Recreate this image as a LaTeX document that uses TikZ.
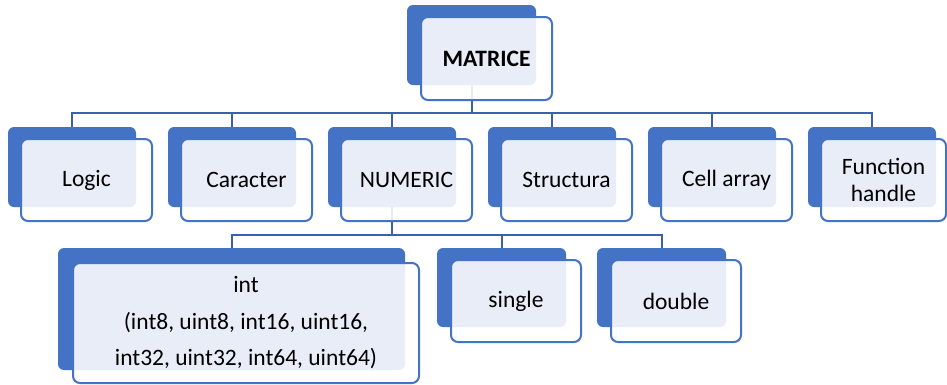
\documentclass[tikz,border=0pt]{standalone}
\usepackage{fontspec}
\setmainfont{Carlito}
\definecolor{myblue}{HTML}{4472C4}
\definecolor{linkblue}{HTML}{3A62AC}
\begin{document}
\begin{tikzpicture}[x=1pt,y=-1pt,
  back/.style={fill=myblue, rounded corners=6pt, inner sep=0pt},
  front/.style={draw=myblue, line width=2pt, fill=white, fill opacity=0.88, text opacity=1,
    rounded corners=7pt, inner sep=0pt, font=\fontsize{23.5}{27}\selectfont, align=center},
  link/.style={draw=linkblue, line width=2pt}]
\useasboundingbox[fill=white] (0,0) rectangle (947,384);
% back boxes
\node[back, minimum width=129pt, minimum height=80pt] (matB) at (471.5,45) {};
\node[back, minimum width=128pt, minimum height=80pt] (logB) at (72,167) {};
\node[back, minimum width=128pt, minimum height=80pt] (carB) at (232,167) {};
\node[back, minimum width=128pt, minimum height=80pt] (numB) at (392,167) {};
\node[back, minimum width=128pt, minimum height=80pt] (strB) at (552,167) {};
\node[back, minimum width=128pt, minimum height=80pt] (celB) at (712,167) {};
\node[back, minimum width=128pt, minimum height=80pt] (funB) at (872,167) {};
\node[back, minimum width=347pt, minimum height=122pt] (intB) at (231.5,309) {};
\node[back, minimum width=129pt, minimum height=79pt] (sinB) at (501.5,287.5) {};
\node[back, minimum width=129pt, minimum height=79pt] (douB) at (661.5,287.5) {};
% connectors
\foreach \c in {logB,carB,numB,strB,celB,funB}
  \draw[link] (matB.south) -- ++(0,28) -| (\c.north);
\foreach \c in {intB,sinB,douB}
  \draw[link] (numB.south) -- ++(0,28) -| (\c.north);
% front boxes
\node[front, minimum width=131pt, minimum height=83pt] (mat) at (486.5,58.5) {\textbf{MATRICE}};
\node[front, minimum width=131pt, minimum height=82pt] (log) at (86.5,180) {Logic};
\node[front, minimum width=131pt, minimum height=82pt] (car) at (246.5,180) {Caracter};
\node[front, minimum width=131pt, minimum height=82pt] (num) at (406.5,180) {NUMERIC};
\node[front, minimum width=131pt, minimum height=82pt] (str) at (566.5,180) {Structura};
\node[front, minimum width=131pt, minimum height=82pt] (cel) at (726.5,180) {Cell array};
\node[front, minimum width=125pt, minimum height=82pt] (fun) at (883.5,180) {Function\\handle};
\node[front, minimum width=346pt, minimum height=120pt, font=\fontsize{23.5}{36.5}\selectfont] (int) at (246,323)
  {int\\(int8, uint8, int16, uint16,\\int32, uint32, int64, uint64)};
\node[front, minimum width=130pt, minimum height=82pt] (sin) at (516,301) {single};
\node[front, minimum width=130pt, minimum height=82pt] (dou) at (676,301) {double};
\end{tikzpicture}
\end{document}
